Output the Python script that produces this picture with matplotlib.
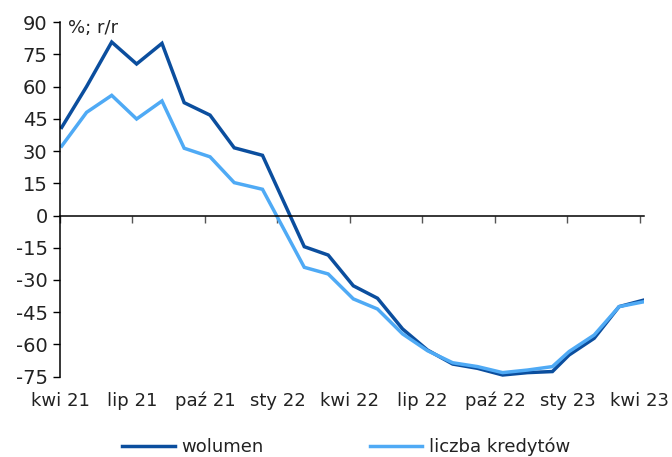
import numpy as np
import matplotlib
matplotlib.use("Agg")
import matplotlib.pyplot as plt

# months since kwi 21 (points are not perfectly evenly spaced in the source)
months = [0.07, 1.10, 2.14, 3.17, 4.22, 5.14, 6.21, 7.21, 8.38, 10.11, 11.10, 12.14,
          13.14, 14.18, 15.21, 16.25, 17.28, 18.32, 19.35, 20.38, 21.07, 22.11, 23.14, 24.18]
wolumen = [41.0, 60.0, 80.7, 70.5, 80.1, 52.5, 46.7, 31.5, 28.0, -14.5, -18.4, -32.7,
           -38.5, -52.8, -62.6, -69.1, -71.1, -74.2, -73.1, -72.6, -64.9, -57.1, -42.4, -39.3]
liczba = [32.3, 48.0, 55.9, 44.9, 53.3, 31.3, 27.3, 15.3, 12.2, -24.1, -27.2, -38.8,
          -43.5, -55.1, -62.9, -68.5, -70.3, -73.1, -71.9, -70.3, -63.3, -55.6, -42.4, -40.1]
tick_labels = ["kwi 21", "lip 21", "paź 21", "sty 22", "kwi 22", "lip 22", "paź 22", "sty 23", "kwi 23"]
yticks = list(range(-75, 91, 15))

dark = "#0B4E9E"
light = "#4FAAF5"
txt = "#222222"

plt.rcParams["font.family"] = ["DejaVu Sans"]
plt.rcParams["font.size"] = 13

fig = plt.figure(figsize=(6.72, 4.57), dpi=100)
ax = fig.add_axes([0.0893, 0.1757, 0.869, 0.776])

ax.plot(months, wolumen, color=dark, lw=2.5, label="wolumen", solid_joinstyle="miter")
ax.plot(months, liczba, color=light, lw=2.5, label="liczba kredytów", solid_joinstyle="miter")

ax.set_xlim(0, 24.17)
ax.set_ylim(-75, 90)
ax.set_yticks(yticks)
ax.set_yticklabels([str(v) for v in yticks])
ax.tick_params(axis="y", direction="out", length=5, width=1, pad=4, colors="black",
               labelcolor=txt, labelsize=14)

for s in ["top", "right"]:
    ax.spines[s].set_visible(False)
ax.spines["bottom"].set_position(("data", 0))
ax.spines["bottom"].set_linewidth(1.1)
ax.spines["left"].set_linewidth(1.1)

xt = np.arange(0, 25, 3)
ax.set_xticks(xt)
ax.set_xticklabels([])
ax.tick_params(axis="x", direction="out", length=5, width=1, colors="#555555")

sec = ax.secondary_xaxis("bottom")
sec.set_xticks(xt)
sec.set_xticklabels(tick_labels)
sec.spines["bottom"].set_visible(False)
sec.tick_params(axis="x", length=0, pad=11, labelcolor=txt)

ax.text(0.014, 0.983, "%; r/r", transform=ax.transAxes, ha="left", va="center", color=txt)

fig.legend(loc="center", bbox_to_anchor=(0.515, 0.022), ncol=2, frameon=False,
           handlelength=2.9, handletextpad=0.35, columnspacing=5.9, labelcolor=txt)

fig.savefig("out.png", dpi=100)
